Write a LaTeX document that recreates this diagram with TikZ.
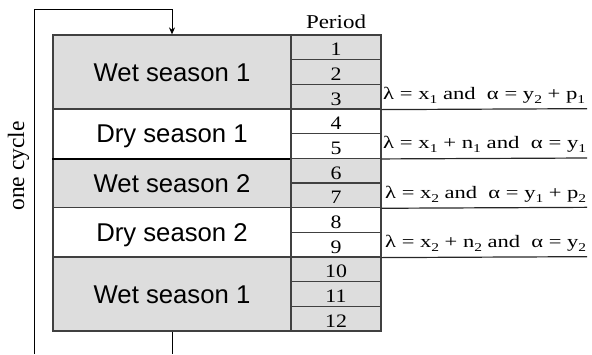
\documentclass[tikz,border=0pt]{standalone}
\usepackage{fontspec}
\usepackage{graphicx}
\setmainfont{Liberation Serif}
\newfontfamily\arialf{Liberation Sans}
\usetikzlibrary{arrows.meta}
\definecolor{cellgray}{RGB}{221,221,221}
\definecolor{edge}{RGB}{64,64,64}
\newcommand{\sbx}[1]{\raisebox{-0.22em}{\fontsize{12}{14}\selectfont #1}}
\begin{document}
\begin{tikzpicture}[x=1pt,y=-1pt,
  season/.style={draw=edge, line width=1.2pt, minimum width=238pt, inner sep=0pt,
    font=\arialf\fontsize{25.7}{30}\selectfont, text height=18.4pt, text depth=0pt},
  wet/.style={season, fill=cellgray},
  dry/.style={season, fill=white},
  cell/.style={draw=edge, line width=1.2pt, minimum width=90pt, minimum height=24.667pt,
    inner sep=0pt, font=\fontsize{19}{22}\selectfont, text height=17.2pt, text depth=0pt},
  wcell/.style={cell, fill=cellgray},
  dcell/.style={cell, fill=white},
  formula/.style={anchor=base west, inner sep=0pt, font=\fontsize{17.5}{20}\selectfont},
  uline/.style={draw=black!85, line width=1.2pt},
  cyc/.style={draw=black, line width=1pt}
]
\useasboundingbox (0,0) rectangle (592,354);
% season blocks
\node[wet, minimum height=74pt]     (w1) at (172,72)     {Wet season 1};
\node[dry, minimum height=49.333pt] (d1) at (172,133.667) {Dry season 1};
\node[wet, minimum height=49.333pt] (w2) at (172,183)    {Wet season 2};
\node[dry, minimum height=49.333pt] (d2) at (172,232.333) {Dry season 2};
\node[wet, minimum height=74pt]     (w3) at (172,294)    {Wet season 1};
\draw[black, line width=2pt] (d1.south west) -- (d1.south east);
% period cells
\node[wcell] (p1)  at (336,47.333)  {\scalebox{1.15}[1]{1}};
\node[wcell] (p2)  at (336,72)      {\scalebox{1.15}[1]{2}};
\node[wcell] (p3)  at (336,96.667)  {\scalebox{1.15}[1]{3}};
\node[dcell] (p4)  at (336,121.333) {\scalebox{1.15}[1]{4}};
\node[dcell] (p5)  at (336,146)     {\scalebox{1.15}[1]{5}};
\node[wcell] (p6)  at (336,170.667) {\scalebox{1.15}[1]{6}};
\node[wcell] (p7)  at (336,195.333) {\scalebox{1.15}[1]{7}};
\node[dcell] (p8)  at (336,220)     {\scalebox{1.15}[1]{8}};
\node[dcell] (p9)  at (336,244.667) {\scalebox{1.15}[1]{9}};
\node[wcell] (p10) at (336,269.333) {\scalebox{1.15}[1]{10}};
\node[wcell] (p11) at (336,294)     {\scalebox{1.15}[1]{11}};
\node[wcell] (p12) at (336,318.667) {\scalebox{1.15}[1]{12}};
\node[anchor=base, inner sep=0pt, font=\fontsize{19.6}{22}\selectfont] (per) at (336,28)
  {\resizebox{60pt}{\height}{Period}};
% formulas
\node[formula] (f1) at (383,99.5)
  {\resizebox{202pt}{\height}{λ = x\sbx{1} and\ \ α = y\sbx{2} + p\sbx{1}}};
\node[formula] (f2) at (383,148.833)
  {\resizebox{203pt}{\height}{λ = x\sbx{1} + n\sbx{1} and\ \ α = y\sbx{1}}};
\node[formula] (f3) at (385,198.167)
  {\resizebox{201pt}{\height}{λ = x\sbx{2} and\ \ α = y\sbx{1} + p\sbx{2}}};
\node[formula] (f4) at (385,247.5)
  {\resizebox{201pt}{\height}{λ = x\sbx{2} + n\sbx{2} and\ \ α = y\sbx{2}}};
\coordinate (e1) at (587,108.667);
\coordinate (e2) at (587,158);
\coordinate (e3) at (587,207.333);
\coordinate (e4) at (587,256.667);
\draw[uline] (p3.south east) -- (e1);
\draw[uline] (p5.south east) -- (e2);
\draw[uline] (p7.south east) -- (e3);
\draw[uline] (p9.south east) -- (e4);
% cycle
\coordinate (cb) at (34.5,354);
\coordinate (ct) at (34.5,9);
\coordinate (at) at (172,9);
\coordinate (bb) at (172,354);
\draw[cyc, -{Stealth[length=7pt,width=6pt]}] (cb) -- (ct) -- (at) -- (w1.north);
\draw[cyc] (w3.south) -- (bb);
\node[rotate=90, anchor=base, inner sep=0pt, font=\fontsize{23.5}{26}\selectfont] (oc) at (24,166) {one cycle};
\end{tikzpicture}
\end{document}
